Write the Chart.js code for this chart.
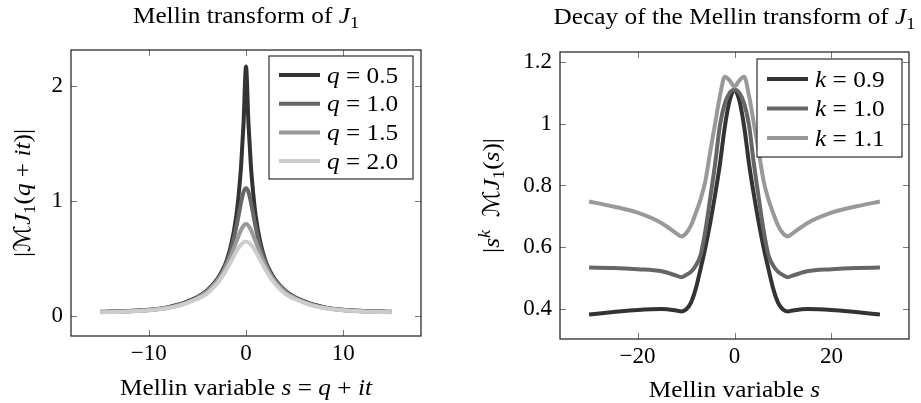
<!DOCTYPE html>
<html>
<head>
<meta charset="utf-8">
<script src="https://cdn.jsdelivr.net/npm/chart.js@4.4.0/dist/chart.umd.min.js"></script>
<style>
  html, body { margin: 0; padding: 0; background: #fff; }
  #wrap { position: relative; width: 921px; height: 403px; }
  #leftBox { position: absolute; left: 0; top: 0; width: 460px; height: 403px; }
  #rightBox { position: absolute; left: 460px; top: 0; width: 461px; height: 403px; }
</style>
</head>
<body>
<div id="wrap">
  <div id="leftBox"><canvas id="leftChart"></canvas></div>
  <div id="rightBox"><canvas id="rightChart"></canvas></div>
</div>
<script>
// Left panel: |M J1(q+it)| against t
const leftT = [-15, -12, -10, -8, -7, -6, -5, -4, -3, -2.5, -2, -1.5, -1, -0.75, -0.5, -0.25, 0,
  0.25, 0.5, 0.75, 1, 1.5, 2, 2.5, 3, 4, 5, 6, 7, 8, 10, 12, 15];
const q05 = [0.037, 0.044, 0.054, 0.077, 0.098, 0.127, 0.166, 0.222, 0.315, 0.385, 0.48, 0.63, 0.87, 1.06, 1.31, 1.68, 2.17,
  1.68, 1.31, 1.06, 0.87, 0.63, 0.48, 0.385, 0.315, 0.222, 0.166, 0.127, 0.098, 0.077, 0.054, 0.044, 0.037];
const q10 = [0.035, 0.042, 0.051, 0.073, 0.094, 0.123, 0.161, 0.216, 0.307, 0.37, 0.463, 0.59, 0.77, 0.88, 0.99, 1.08, 1.11,
  1.08, 0.99, 0.88, 0.77, 0.59, 0.463, 0.37, 0.307, 0.216, 0.161, 0.123, 0.094, 0.073, 0.051, 0.042, 0.035];
const q15 = [0.034, 0.041, 0.050, 0.071, 0.091, 0.119, 0.157, 0.21, 0.30, 0.36, 0.44, 0.535, 0.645, 0.70, 0.75, 0.785, 0.80,
  0.785, 0.75, 0.70, 0.645, 0.535, 0.44, 0.36, 0.30, 0.21, 0.157, 0.119, 0.091, 0.071, 0.050, 0.041, 0.034];
const q20 = [0.033, 0.040, 0.049, 0.069, 0.088, 0.115, 0.148, 0.195, 0.278, 0.335, 0.405, 0.48, 0.56, 0.595, 0.62, 0.64, 0.645,
  0.64, 0.62, 0.595, 0.56, 0.48, 0.405, 0.335, 0.278, 0.195, 0.148, 0.115, 0.088, 0.069, 0.049, 0.040, 0.033];
const qLabels = ['0.5', '1.0', '1.5', '2.0'];
const leftXTicks = [-10, 0, 10];
const leftYTicks = [0, 1, 2];

// Right panel: |s^k M J1(s)| against s
const rightS = [-30, -25, -20, -15, -12, -11, -10, -9, -8, -7, -6, -5, -4, -3, -2, -1, 0,
  1, 2, 3, 4, 5, 6, 7, 8, 9, 10, 11, 12, 15, 20, 25, 30];
const k09 = [0.382, 0.39, 0.397, 0.40, 0.395, 0.392, 0.398, 0.42, 0.465, 0.53, 0.60, 0.68, 0.77, 0.87, 0.99, 1.075, 1.11,
  1.075, 0.99, 0.87, 0.77, 0.68, 0.60, 0.53, 0.465, 0.42, 0.398, 0.392, 0.395, 0.40, 0.397, 0.39, 0.382];
const k10 = [0.534, 0.533, 0.529, 0.522, 0.508, 0.503, 0.51, 0.52, 0.54, 0.575, 0.655, 0.76, 0.87, 0.995, 1.065, 1.10, 1.11,
  1.10, 1.065, 0.995, 0.87, 0.76, 0.655, 0.575, 0.54, 0.52, 0.51, 0.503, 0.508, 0.522, 0.529, 0.533, 0.534];
const k11 = [0.748, 0.732, 0.712, 0.678, 0.645, 0.635, 0.645, 0.67, 0.71, 0.755, 0.815, 0.91, 1.0, 1.09, 1.152, 1.14, 1.12,
  1.14, 1.152, 1.09, 1.0, 0.91, 0.815, 0.755, 0.71, 0.67, 0.645, 0.635, 0.645, 0.678, 0.712, 0.732, 0.748];
const kLabels = ['0.9', '1.0', '1.1'];
const rightXTicks = [-20, 0, 20];
const rightYTicks = [0.4, 0.6, 0.8, 1, 1.2];

const SERIF = '"Liberation Serif", "Times New Roman", serif';
const SCRIPT = '"DejaVu Serif", "DejaVu Sans", serif';
const FONT_SIZE = 23;
const STRETCH = 1.1;

function toPoints(xs, ys) {
  return xs.map((x, i) => ({ x: x, y: ys[i] }));
}

function lineSet(label, xs, ys, color, order) {
  return {
    label: label,
    data: toPoints(xs, ys),
    borderColor: color,
    backgroundColor: color,
    borderWidth: 4,
    pointRadius: 0,
    fill: false,
    cubicInterpolationMode: 'monotone',
    order: order
  };
}

// draws a list of text pieces (italic / sub / sup) as one line
function drawRich(ctx, segs, x, y, size, align) {
  const parts = segs.map(s => {
    const sz = (s.sub || s.sup) ? size * 0.72 : size;
    const font = (s.it ? 'italic ' : '') + sz.toFixed(1) + 'px ' + (s.font || SERIF);
    ctx.font = font;
    return { s: s, font: font, w: ctx.measureText(s.t).width };
  });
  const total = parts.reduce((sum, p) => sum + p.w, 0);
  ctx.save();
  ctx.translate(x, y);
  ctx.scale(STRETCH, 1);
  let cx = align === 'left' ? 0 : -total / 2;
  ctx.textAlign = 'left';
  ctx.textBaseline = 'alphabetic';
  parts.forEach(p => {
    ctx.font = p.font;
    const dy = p.s.sub ? size * 0.2 : (p.s.sup ? -size * 0.38 : 0);
    ctx.fillText(p.s.t, cx, dy);
    cx += p.w;
  });
  ctx.restore();
}

function decorPlugin(cfg) {
  return {
    id: 'decor',
    afterDatasetsDraw(chart) {
      const ctx = chart.ctx;
      const a = chart.chartArea;
      const xs = chart.scales.x;
      const ys = chart.scales.y;
      ctx.save();

      // inner tick marks on all four sides
      ctx.strokeStyle = '#777';
      ctx.lineWidth = 1;
      ctx.beginPath();
      cfg.xTicks.forEach(v => {
        const px = Math.round(xs.getPixelForValue(v)) + 0.5;
        ctx.moveTo(px, a.bottom); ctx.lineTo(px, a.bottom - 6);
        ctx.moveTo(px, a.top); ctx.lineTo(px, a.top + 6);
      });
      cfg.yTicks.forEach(v => {
        const py = Math.round(ys.getPixelForValue(v)) + 0.5;
        ctx.moveTo(a.left, py); ctx.lineTo(a.left + 6, py);
        ctx.moveTo(a.right, py); ctx.lineTo(a.right - 6, py);
      });
      ctx.stroke();

      // frame
      ctx.strokeStyle = '#1a1a1a';
      ctx.lineWidth = 1.2;
      ctx.strokeRect(a.left, a.top, a.right - a.left, a.bottom - a.top);

      // legend box
      const lg = cfg.legend;
      const bx = a.right - lg.inset - lg.w;
      const by = a.top + lg.top;
      ctx.fillStyle = '#fff';
      ctx.fillRect(bx, by, lg.w, lg.h);
      ctx.strokeStyle = '#1a1a1a';
      ctx.lineWidth = 1.1;
      ctx.strokeRect(bx, by, lg.w, lg.h);
      chart.data.datasets.forEach((ds, i) => {
        const ey = by + lg.first + i * lg.step;
        ctx.strokeStyle = ds.borderColor;
        ctx.lineWidth = 4;
        ctx.beginPath();
        ctx.moveTo(bx + 10, ey);
        ctx.lineTo(bx + 51, ey);
        ctx.stroke();
        ctx.fillStyle = '#000';
        drawRich(ctx, [{ t: lg.sym, it: true }, { t: ' = ' + ds.label }], bx + 58, ey + 7.5, FONT_SIZE, 'left');
      });

      // titles and axis labels
      ctx.fillStyle = '#000';
      const mid = (a.left + a.right) / 2;
      drawRich(ctx, cfg.title, mid, cfg.titleY, FONT_SIZE);
      drawRich(ctx, cfg.xLabel, mid, cfg.xLabelY, FONT_SIZE);
      ctx.translate(cfg.yLabelX, (a.top + a.bottom) / 2);
      ctx.rotate(-Math.PI / 2);
      drawRich(ctx, cfg.yLabel, 0, 0, FONT_SIZE);
      ctx.restore();
    }
  };
}

function makeOptions(box, range, ticks) {
  const tickFont = { family: SERIF, size: FONT_SIZE };
  return {
    responsive: true,
    maintainAspectRatio: false,
    animation: false,
    layout: { padding: { left: 0, top: box.top, right: box.right, bottom: 0 } },
    plugins: { legend: { display: false }, tooltip: { enabled: false }, title: { display: false } },
    scales: {
      x: {
        type: 'linear',
        min: range.xMin,
        max: range.xMax,
        grid: { display: false, drawTicks: false },
        border: { display: false },
        afterBuildTicks: s => { s.ticks = ticks.x.map(v => ({ value: v })); },
        afterFit: s => { s.height = box.bottom; },
        ticks: {
          font: tickFont,
          color: '#000',
          padding: 4,
          maxRotation: 0,
          callback: v => String(v).replace('-', '\u2212')
        }
      },
      y: {
        type: 'linear',
        min: range.yMin,
        max: range.yMax,
        grid: { display: false, drawTicks: false },
        border: { display: false },
        afterBuildTicks: s => { s.ticks = ticks.y.map(v => ({ value: v })); },
        afterFit: s => { s.width = box.left; },
        ticks: {
          font: tickFont,
          color: '#000',
          padding: 8,
          callback: v => String(v).replace('-', '\u2212')
        }
      }
    }
  };
}

// ---- left chart ----
const leftColors = ['#333333', '#666666', '#999999', '#cccccc'];
const leftSeries = [q05, q10, q15, q20];
new Chart(document.getElementById('leftChart'), {
  type: 'line',
  data: {
    datasets: leftSeries.map((ys, i) => lineSet(qLabels[i], leftT, ys, leftColors[i], leftSeries.length - i))
  },
  options: makeOptions(
    { left: 71, top: 50, right: 39, bottom: 67 },
    { xMin: -18, xMax: 18, yMin: -0.174, yMax: 2.313 },
    { x: leftXTicks, y: leftYTicks }
  ),
  plugins: [decorPlugin({
    xTicks: leftXTicks,
    yTicks: leftYTicks,
    title: [{ t: 'Mellin transform of ' }, { t: 'J', it: true }, { t: '1', sub: true }],
    titleY: 23,
    xLabel: [{ t: 'Mellin variable ' }, { t: 's', it: true }, { t: ' = ' }, { t: 'q', it: true }, { t: ' + ' }, { t: 'it', it: true }],
    xLabelY: 395,
    yLabel: [{ t: '|' }, { t: '\u2133', font: SCRIPT, it: true }, { t: 'J', it: true }, { t: '1', sub: true },
      { t: '(' }, { t: 'q', it: true }, { t: ' + ' }, { t: 'it', it: true }, { t: ')|' }],
    yLabelX: 30,
    legend: { sym: 'q', inset: 8, top: 6, w: 144, h: 123, first: 19, step: 28.7 }
  })]
});

// ---- right chart ----
const rightColors = ['#333333', '#666666', '#999999'];
const rightSeries = [k09, k10, k11];
new Chart(document.getElementById('rightChart'), {
  type: 'line',
  data: {
    datasets: rightSeries.map((ys, i) => lineSet(kLabels[i], rightS, ys, rightColors[i], rightSeries.length - i))
  },
  options: makeOptions(
    { left: 100, top: 52, right: 12, bottom: 64 },
    { xMin: -36, xMax: 36, yMin: 0.3027, yMax: 1.2324 },
    { x: rightXTicks, y: rightYTicks }
  ),
  plugins: [decorPlugin({
    xTicks: rightXTicks,
    yTicks: rightYTicks,
    title: [{ t: 'Decay of the Mellin transform of ' }, { t: 'J', it: true }, { t: '1', sub: true }],
    titleY: 24,
    xLabel: [{ t: 'Mellin variable ' }, { t: 's', it: true }],
    xLabelY: 397,
    yLabel: [{ t: '|' }, { t: 's', it: true }, { t: 'k', it: true, sup: true }, { t: '  ' },
      { t: '\u2133', font: SCRIPT, it: true }, { t: 'J', it: true }, { t: '1', sub: true },
      { t: '(' }, { t: 's', it: true }, { t: ')|' }],
    yLabelX: 39,
    legend: { sym: 'k', inset: 7, top: 7, w: 145, h: 98, first: 20, step: 29.5 }
  })]
});
</script>
</body>
</html>
